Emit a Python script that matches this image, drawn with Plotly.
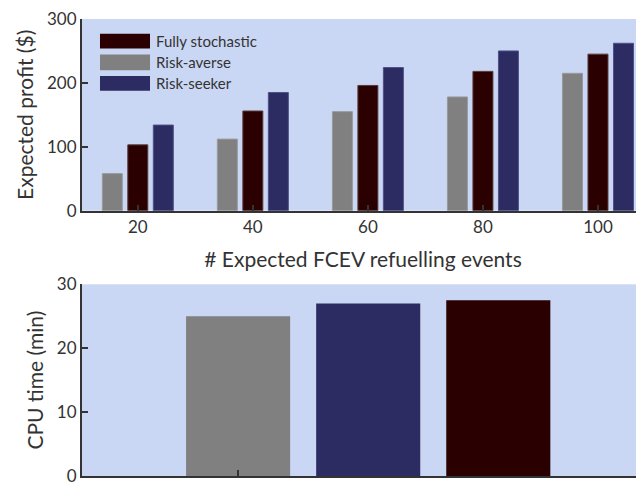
import plotly.graph_objects as go

events = [20, 40, 60, 80, 100]
risk_averse = [58, 112, 155, 178, 215]
fully_stochastic = [103, 156, 196, 218, 245]
risk_seeker = [134, 185, 224, 250, 262]

cpu_labels = ["Risk-averse", "Risk-seeker", "Fully stochastic"]
cpu_pos = [0, 1, 2]
cpu_time = [25, 27, 27.5]

legend_names = ["Fully stochastic", "Risk-averse", "Risk-seeker"]

C_GRAY = "#808080"
C_RED = "#2a0000"
C_BLUE = "#2c2c62"
BG = "#cad7f4"
FONT = "Lato, 'Open Sans', sans-serif"
AX = "#333333"

fig = go.Figure()
fig.add_trace(go.Bar(x=events, y=risk_averse, name="Risk-averse", showlegend=False,
                     marker=dict(color=C_GRAY, line=dict(color="#9a9a9a", width=1)),
                     xaxis="x", yaxis="y"))
fig.add_trace(go.Bar(x=events, y=fully_stochastic, name="Fully stochastic", showlegend=False,
                     marker=dict(color=C_RED, line=dict(color="#5a3a3a", width=1)),
                     xaxis="x", yaxis="y"))
fig.add_trace(go.Bar(x=events, y=risk_seeker, name="Risk-seeker", showlegend=False,
                     marker=dict(color=C_BLUE, line=dict(color="#50508a", width=1)),
                     xaxis="x", yaxis="y"))

fig.add_trace(go.Bar(x=cpu_pos, y=cpu_time, width=0.8, showlegend=False,
                     marker=dict(color=[C_GRAY, C_BLUE, C_RED], line=dict(width=0)),
                     hovertext=cpu_labels, xaxis="x2", yaxis="y2"))

# legend drawn as swatches + text inside the top panel
legend_colors = [C_RED, C_GRAY, C_BLUE]
sw_y = [(0.846, 0.923), (0.733, 0.815), (0.626, 0.703)]
for name, col, (y0, y1) in zip(legend_names, legend_colors, sw_y):
    fig.add_shape(type="rect", xref="x domain", yref="y domain",
                  x0=0.032, x1=0.121, y0=y0, y1=y1,
                  fillcolor=col, line=dict(width=0), layer="above")
    fig.add_annotation(xref="x domain", yref="y domain", x=0.128, y=(y0 + y1) / 2,
                       text=name, showarrow=False, xanchor="left", yanchor="middle",
                       font=dict(family=FONT, size=15, color=AX))

axis_common = dict(showline=True, linecolor=AX, linewidth=2, ticks="inside",
                   ticklen=6, tickwidth=2, tickcolor=AX, showgrid=False, zeroline=False,
                   tickfont=dict(family=FONT, size=17, color=AX), mirror=False,
                   ticklabeloverflow="allow")

fig.update_layout(
    width=636, height=478,
    margin=dict(l=74, r=0, t=7, b=6),
    paper_bgcolor="white",
    plot_bgcolor=BG,
    barmode="group", bargap=0.335, bargroupgap=0.216,
    font=dict(family=FONT, color=AX),
    showlegend=False,
    xaxis=dict(domain=[0, 1], anchor="y", range=[10.3, 108], tickvals=events,
               title=dict(text="# Expected FCEV refuelling events", font=dict(size=21, family=FONT, color=AX), standoff=16),
               **axis_common),
    yaxis=dict(domain=[0.5806, 1.0], anchor="x", range=[0, 300], tickvals=[0, 100, 200, 300],
               title=dict(text="Expected profit ($)", font=dict(size=21, family=FONT, color=AX), standoff=8),
               **axis_common),
    xaxis2=dict(domain=[0, 1], anchor="y2", range=[-1.2, 3.12], tickvals=[0], ticktext=[""],
                **axis_common),
    yaxis2=dict(domain=[0, 0.4194], anchor="x2", range=[0, 30], tickvals=[0, 10, 20, 30],
                title=dict(text="CPU time (min)", font=dict(size=21, family=FONT, color=AX), standoff=8),
                **axis_common),
)

fig.write_html("out.html")
